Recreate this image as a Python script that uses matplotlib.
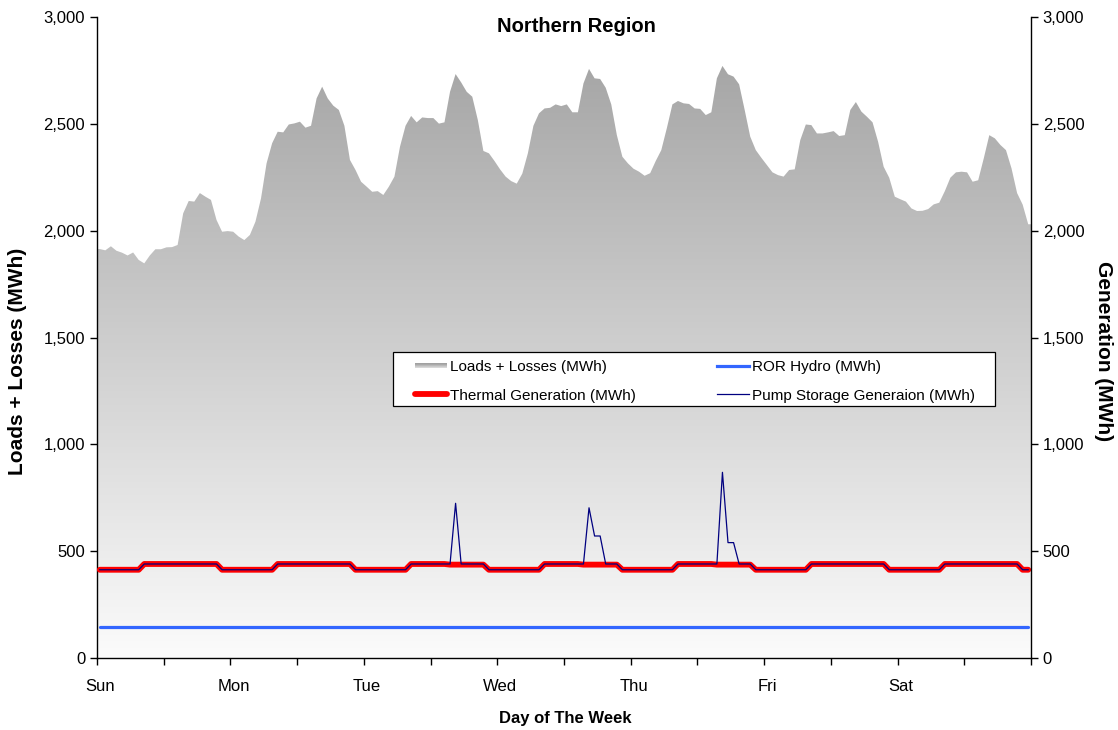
import numpy as np
import matplotlib
matplotlib.use("Agg")
import matplotlib.pyplot as plt
from matplotlib.colors import LinearSegmentedColormap
from matplotlib.legend_handler import HandlerBase
from matplotlib.patches import Rectangle
from matplotlib.lines import Line2D
from matplotlib.ticker import FuncFormatter
from matplotlib.transforms import ScaledTranslation

plt.rcParams["font.family"] = ["Liberation Sans", "DejaVu Sans"]

# ---- hourly data, Sunday 00:00 through Saturday 23:00 ----
day_labels = ["Sun", "", "Mon", "", "Tue", "", "Wed", "", "Thu", "", "Fri", "", "Sat", "", ""]

loads_losses = [
    # Sun
    1914, 1908, 1927, 1906, 1897, 1884, 1898, 1863, 1847, 1884, 1913, 1913,
    1922, 1923, 1933, 2081, 2139, 2136, 2176, 2159, 2144, 2050, 1995, 1998,
    # Mon
    1995, 1972, 1956, 1980, 2042, 2151, 2315, 2409, 2463, 2460, 2497, 2502,
    2510, 2482, 2491, 2619, 2674, 2619, 2585, 2565, 2491, 2331, 2284, 2229,
    # Tue
    2206, 2182, 2185, 2167, 2206, 2253, 2393, 2491, 2537, 2507, 2530, 2527,
    2527, 2501, 2507, 2650, 2733, 2694, 2650, 2627, 2518, 2373, 2362, 2326,
    # Wed
    2287, 2253, 2232, 2220, 2267, 2362, 2491, 2549, 2572, 2575, 2591, 2583,
    2591, 2554, 2554, 2689, 2757, 2713, 2710, 2669, 2591, 2448, 2346, 2315,
    # Thu
    2290, 2276, 2257, 2269, 2326, 2377, 2480, 2591, 2607, 2596, 2593, 2572,
    2570, 2541, 2554, 2713, 2771, 2732, 2721, 2685, 2565, 2440, 2377, 2341,
    # Fri
    2307, 2273, 2260, 2253, 2284, 2287, 2424, 2497, 2494, 2455, 2455, 2460,
    2466, 2443, 2447, 2565, 2602, 2557, 2533, 2507, 2416, 2299, 2248, 2159,
    # Sat
    2147, 2136, 2104, 2092, 2093, 2101, 2123, 2131, 2185, 2248, 2273, 2276,
    2273, 2229, 2236, 2338, 2447, 2432, 2401, 2377, 2291, 2176, 2122, 2030,
]

thermal_generation = [
    # Sun
    413, 413, 413, 413, 413, 413, 413, 413, 440, 440, 440, 440,
    440, 440, 440, 440, 440, 440, 440, 440, 440, 440, 413, 413,
    # Mon
    413, 413, 413, 413, 413, 413, 413, 413, 440, 440, 440, 440,
    440, 440, 440, 440, 440, 440, 440, 440, 440, 440, 413, 413,
    # Tue
    413, 413, 413, 413, 413, 413, 413, 413, 440, 440, 440, 440,
    440, 440, 440, 437, 437, 437, 437, 437, 437, 437, 413, 413,
    # Wed
    413, 413, 413, 413, 413, 413, 413, 413, 440, 440, 440, 440,
    440, 440, 440, 437, 437, 437, 437, 437, 437, 437, 413, 413,
    # Thu
    413, 413, 413, 413, 413, 413, 413, 413, 440, 440, 440, 440,
    440, 440, 440, 437, 437, 437, 437, 437, 437, 437, 413, 413,
    # Fri
    413, 413, 413, 413, 413, 413, 413, 413, 440, 440, 440, 440,
    440, 440, 440, 440, 440, 440, 440, 440, 440, 440, 413, 413,
    # Sat
    413, 413, 413, 413, 413, 413, 413, 413, 440, 440, 440, 440,
    440, 440, 440, 440, 440, 440, 440, 440, 440, 440, 413, 413,
]

pump_storage = [
    # Sun
    413, 413, 413, 413, 413, 413, 413, 413, 440, 440, 440, 440,
    440, 440, 440, 440, 440, 440, 440, 440, 440, 440, 413, 413,
    # Mon
    413, 413, 413, 413, 413, 413, 413, 413, 440, 440, 440, 440,
    440, 440, 440, 440, 440, 440, 440, 440, 440, 440, 413, 413,
    # Tue
    413, 413, 413, 413, 413, 413, 413, 413, 440, 440, 440, 440,
    440, 440, 440, 440, 724, 440, 440, 440, 440, 440, 413, 413,
    # Wed
    413, 413, 413, 413, 413, 413, 413, 413, 440, 440, 440, 440,
    440, 440, 440, 440, 703, 571, 571, 440, 440, 440, 413, 413,
    # Thu
    413, 413, 413, 413, 413, 413, 413, 413, 440, 440, 440, 440,
    440, 440, 440, 440, 869, 540, 540, 440, 440, 440, 413, 413,
    # Fri
    413, 413, 413, 413, 413, 413, 413, 413, 440, 440, 440, 440,
    440, 440, 440, 440, 440, 440, 440, 440, 440, 440, 413, 413,
    # Sat
    413, 413, 413, 413, 413, 413, 413, 413, 440, 440, 440, 440,
    440, 440, 440, 440, 440, 440, 440, 440, 440, 440, 413, 413,
]

ror_hydro = [146] * 168

# ---- figure ----
W, H = 1118, 730
fig = plt.figure(figsize=(W / 100, H / 100), dpi=100)
ax = fig.add_axes([97 / W, 72 / H, 934 / W, 641 / H])

n = len(loads_losses)
hours = np.arange(n) + 0.5          # each value sits mid-way through its hour
ymax = 3000

# gradient-filled load area
area_x = np.concatenate([[0], hours, [n]])
area_y = np.concatenate([[loads_losses[0]], loads_losses, [loads_losses[-1]]])
outline = ax.fill_between(area_x, 0, area_y, facecolor="none", edgecolor="none")
gray_cmap = LinearSegmentedColormap.from_list("fade", [(0.985,) * 3, (0.625,) * 3])
grad = np.linspace(0, 1, 512).reshape(-1, 1)
im = ax.imshow(grad, extent=[0, n, 0, ymax], origin="lower", aspect="auto",
               cmap=gray_cmap, zorder=1, interpolation="bilinear")
im.set_clip_path(outline.get_paths()[0], transform=ax.transData)

ax.plot(hours, ror_hydro, color="#3366FF", lw=2.3, solid_capstyle="round", zorder=3)
ax.plot(hours, thermal_generation, color="#FF0000", lw=4.2,
        solid_capstyle="round", solid_joinstyle="round", zorder=4)
ax.plot(hours, pump_storage, color="#000080", lw=0.9, zorder=5)

ax.set_xlim(0, n)
ax.set_ylim(0, ymax)
ax.set_xticks(np.arange(0, n + 1, 12))
ax.set_xticklabels(day_labels)
ax.set_yticks(np.arange(0, ymax + 1, 500))
comma = FuncFormatter(lambda v, p: f"{int(v):,}")
ax.yaxis.set_major_formatter(comma)
ax.tick_params(axis="x", direction="out", length=5, width=1, labelsize=12, pad=10)
ax.tick_params(axis="y", direction="out", length=5, width=1, labelsize=12, pad=3.5)
nudge = ScaledTranslation(3 / 100, 0, fig.dpi_scale_trans)
for lbl in ax.get_xticklabels():
    lbl.set_transform(lbl.get_transform() + nudge)

ax2 = ax.twinx()
ax2.set_ylim(0, ymax)
ax2.set_yticks(np.arange(0, ymax + 1, 500))
ax2.yaxis.set_major_formatter(comma)
ax2.tick_params(axis="y", direction="out", length=5, width=1, labelsize=12, pad=3.5)

for a in (ax, ax2):
    a.spines["top"].set_visible(False)
    for s in ("left", "right", "bottom"):
        a.spines[s].set_linewidth(1.0)
        a.spines[s].set_color("black")
ax.spines["right"].set_visible(False)
ax2.spines["left"].set_visible(False)
ax2.spines["bottom"].set_visible(False)

# titles and axis names
fig.text(576 / W, 1 - 26 / H, "Northern Region", ha="center", va="center",
         fontsize=14.5, fontweight="bold")
fig.text(565 / W, 1 - 718 / H, "Day of The Week", ha="center", va="center",
         fontsize=12, fontweight="bold")
fig.text(18 / W, 1 - 361 / H, "Loads + Losses (MWh)", ha="center", va="center",
         rotation=90, fontsize=15, fontweight="bold")
fig.text(1103 / W, 1 - 351 / H, "Generation (MWh)", ha="center", va="center",
         rotation=270, fontsize=15, fontweight="bold")


# ---- legend ----
class GradientHandle(HandlerBase):
    def create_artists(self, legend, orig_handle, xdescent, ydescent,
                       width, height, fontsize, trans):
        steps = 10
        band = height * 0.5
        base = -ydescent + height * 0.3
        out = []
        for k in range(steps):
            g = 0.88 - 0.28 * k / (steps - 1)
            out.append(Rectangle((-xdescent, base + band * k / steps), width,
                                 band / steps + 0.3, facecolor=(g, g, g),
                                 edgecolor="none", transform=trans))
        return out


def ax_px(px, py):
    return ((px - 97) / 934, (658 - py) / 641)


x0, y1 = ax_px(393, 352)
x1, y0 = ax_px(995, 406)
ax2.add_patch(Rectangle((x0, y0), x1 - x0, y1 - y0, transform=ax.transAxes,
                        facecolor="white", edgecolor="black", lw=0.9, zorder=20))

load_handle = Rectangle((0, 0), 1, 1)
thermal_handle = Line2D([], [], color="#FF0000", lw=4.2, solid_capstyle="round")
ror_handle = Line2D([], [], color="#3366FF", lw=2.3)
pump_handle = Line2D([], [], color="#000080", lw=0.9)

leg_kw = dict(loc="center left", frameon=False, fontsize=11, handlelength=2.1,
              handletextpad=0.2, labelspacing=0.92, borderpad=0, borderaxespad=0,
              bbox_transform=ax.transAxes)
ly = ax_px(0, 381.5)[1]
leg1 = ax2.legend([load_handle, thermal_handle],
                  ["Loads + Losses (MWh)", "Thermal Generation (MWh)"],
                  bbox_to_anchor=(ax_px(415, 0)[0], ly),
                  handler_map={Rectangle: GradientHandle()}, **leg_kw)
leg1.set_zorder(21)
ax2.add_artist(leg1)
leg2 = ax2.legend([ror_handle, pump_handle],
                  ["ROR Hydro (MWh)", "Pump Storage Generaion (MWh)"],
                  bbox_to_anchor=(ax_px(717, 0)[0], ly), **leg_kw)
leg2.set_zorder(21)

fig.savefig("out.png", dpi=100)
